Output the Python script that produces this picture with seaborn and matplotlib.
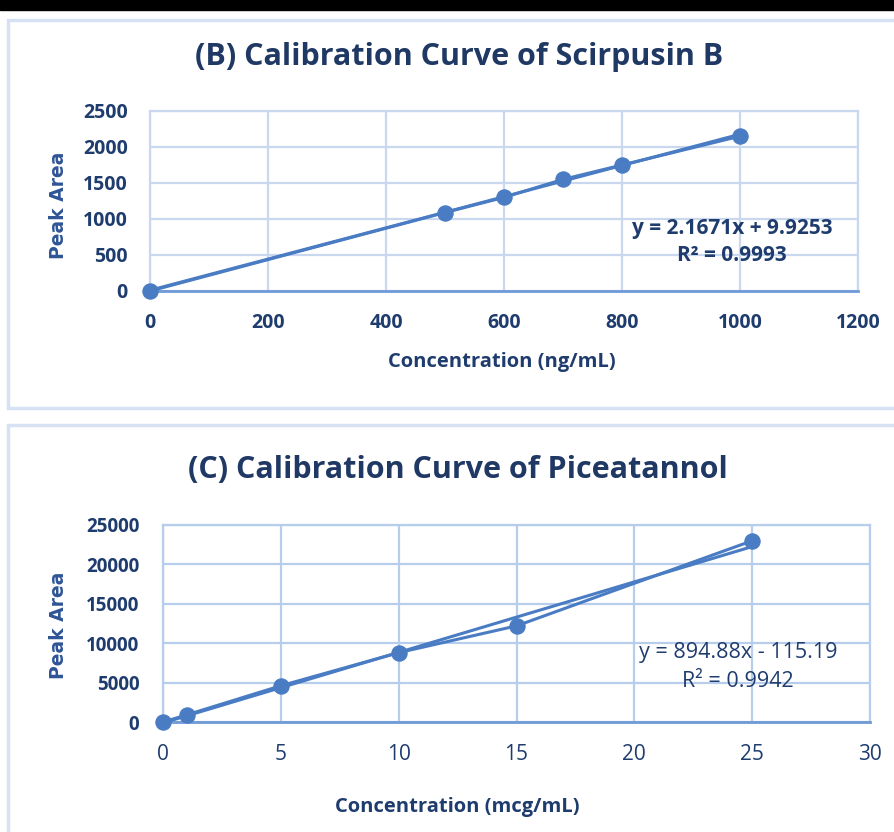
import numpy as np
import pandas as pd
import seaborn as sns
import matplotlib.pyplot as plt
from matplotlib.patches import Rectangle

# Scirpusin B calibration points
conc_b = [0, 500, 600, 700, 800, 1000]
area_b = [0, 1090, 1300, 1550, 1750, 2150]
slope_b, icpt_b, r2_b = 2.1671, 9.9253, 0.9993

# Piceatannol calibration points
conc_c = [0, 1, 5, 10, 15, 25]
area_c = [0, 900, 4600, 8800, 12200, 23000]
slope_c, icpt_c, r2_c = 894.88, -115.19, 0.9942

sns.set_style("white")
plt.rcParams['font.family'] = ['Open Sans', 'DejaVu Sans']

blue = '#4A7CC4'
navy = '#1F3C6E'
title_col = '#1F3864'

fig = plt.figure(figsize=(8.94, 8.32), dpi=100)

# black strip at the top and the two panel frames
fig.patches.append(Rectangle((0, 1 - 10 / 832), 1, 10 / 832, transform=fig.transFigure,
                             color='black', zorder=-5))
fig.patches.append(Rectangle((8 / 894, 1 - 408 / 832), 1, 388 / 832, transform=fig.transFigure,
                             facecolor='white', edgecolor='#D6E2F3', lw=2.5, zorder=-5))
fig.patches.append(Rectangle((8 / 894, -0.01), 1, (832 - 425) / 832 + 0.01, transform=fig.transFigure,
                             facecolor='white', edgecolor='#D6E2F3', lw=2.5, zorder=-5))


def draw(ax, x, y, slope, icpt, r2, xmax, ymax, xstep, ystep, xlabel,
         eq_txt, eq_pos, bold, grid, ypad, eq_size, eq_ls):
    df = pd.DataFrame({'x': x, 'y': y})
    fit = pd.DataFrame({'x': [0, max(x)]})
    fit['y'] = slope * fit['x'] + icpt
    sns.lineplot(data=df, x='x', y='y', ax=ax, color=blue, lw=2.2, sort=False, zorder=3)
    sns.lineplot(data=fit, x='x', y='y', ax=ax, color=blue, lw=2.2, zorder=3)
    sns.scatterplot(data=df, x='x', y='y', ax=ax, color=blue, s=120, edgecolor=blue, zorder=4,
                    clip_on=False)
    ax.set_xlim(0, xmax)
    ax.set_ylim(0, ymax)
    ax.set_xticks(np.arange(0, xmax + 1e-9, xstep))
    ax.set_yticks(np.arange(0, ymax + 1e-9, ystep))
    ax.grid(True, color=grid, lw=1.6)
    ax.set_axisbelow(True)
    for s in ['top', 'right', 'left']:
        ax.spines[s].set_color(grid)
        ax.spines[s].set_linewidth(1.6)
    ax.spines['bottom'].set_color('#6F9AD6')
    ax.spines['bottom'].set_linewidth(2)
    ax.tick_params(axis='x', length=0, pad=16)
    ax.tick_params(axis='y', length=0, pad=ypad)
    for lab in ax.get_yticklabels():
        lab.set_fontsize(14 if bold else 13.5)
        lab.set_fontweight('bold')
        lab.set_color(navy)
    for lab in ax.get_xticklabels():
        lab.set_fontsize(14 if bold else 15)
        lab.set_fontweight('bold' if bold else 'normal')
        lab.set_color(navy)
    ax.set_xlabel(xlabel, fontsize=14.5, fontweight='bold', color=navy)
    ax.set_ylabel('Peak Area', fontsize=13.5, fontweight='bold', color='#2F5597',
                  family='DejaVu Sans')
    ax.text(eq_pos[0], eq_pos[1], eq_txt + '\n' + 'R² = %.4f' % r2, transform=ax.transAxes,
            ha='center', va='center', fontsize=eq_size,
            fontweight='bold' if bold else 'normal', color=navy, linespacing=eq_ls)


ax_b = fig.add_axes([150 / 894, 1 - 291 / 832, 708 / 894, 180 / 832])
draw(ax_b, conc_b, area_b, slope_b, icpt_b, r2_b, 1200, 2500, 200, 500,
     'Concentration (ng/mL)', 'y = %.4fx + %.4f' % (slope_b, icpt_b), (0.822, 0.272),
     True, '#C9D8EE', 16, 15, 1.35)
ax_b.xaxis.set_label_coords(0.497, -0.339)
ax_b.yaxis.set_label_coords(-0.116, 0.478)

ax_c = fig.add_axes([163 / 894, 1 - 722 / 832, 707 / 894, 197 / 832])
draw(ax_c, conc_c, area_c, slope_c, icpt_c, r2_c, 30, 25000, 5, 5000,
     'Concentration (mcg/mL)', 'y = %.2fx - %.2f' % (slope_c, -icpt_c), (0.813, 0.279),
     False, '#B7CDEC', 17, 15.5, 1.45)
ax_c.xaxis.set_label_coords(0.416, -0.381)
ax_c.yaxis.set_label_coords(-0.134, 0.492)

fig.text(459 / 894, 1 - 57 / 832, '(B) Calibration Curve of Scirpusin B', ha='center', va='center',
         fontsize=22, fontweight='bold', color=title_col)
fig.text(458 / 894, 1 - 470 / 832, '(C) Calibration Curve of Piceatannol', ha='center', va='center',
         fontsize=22, fontweight='bold', color=title_col)

fig.savefig('out.png', dpi=100)
